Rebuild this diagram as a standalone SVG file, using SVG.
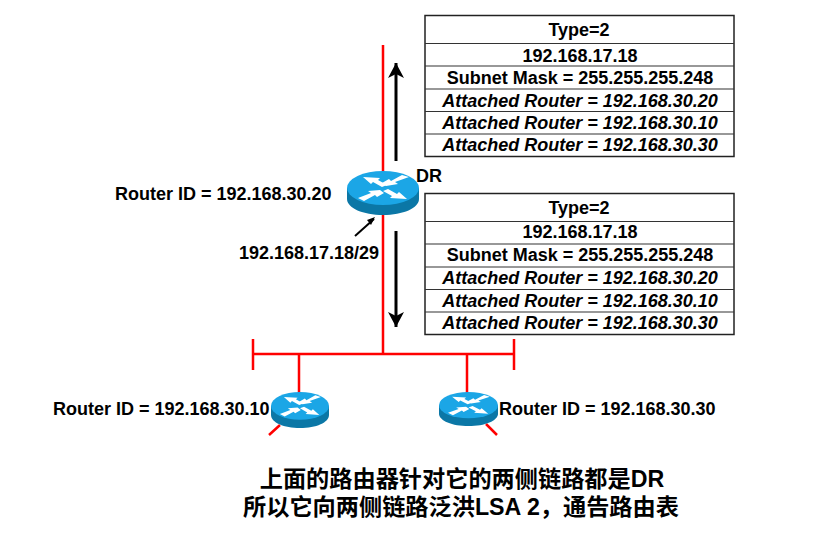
<svg xmlns="http://www.w3.org/2000/svg" width="822" height="551" viewBox="0 0 822 551">
<style>
text{font-family:"Liberation Sans",Arial,"Noto Sans CJK SC",sans-serif;fill:#000;font-weight:700;font-size:18px}
.c{text-anchor:middle}
.i{font-style:italic}
.cn{font-family:"Liberation Sans","Noto Sans CJK SC",sans-serif;font-size:23.200px;text-anchor:middle}
.r{stroke:#f00;stroke-width:2.500;fill:none}
.k{stroke:#000;stroke-width:3;fill:none}
.t{fill:#fff;stroke:#222;stroke-width:1.500}
.l{stroke:#333;stroke-width:1.200}
</style>
<defs>
<symbol id="rt" viewBox="0 0 72 44" preserveAspectRatio="none">
<path d="M0 17V28C0 37 16 44 36 44S72 37 72 28V17Z" fill="#0b77a6"/>
<ellipse cx="36" cy="17" rx="36" ry="17" fill="#1ba6e6"/>
<path d="M11 27L24 22L21 20L33 19L37 22L30 26L28 24L17 30Z" fill="#fff"/>
<path d="M62 6L48 11L51 13L39 15L35 12L42 8L44 10L55 4Z" fill="#fff"/>
<path d="M16 6L33 7L31 9L40 14L35 16L26 11L24 13Z" fill="#fff"/>
<path d="M60 28L43 27L45 25L36 20L41 18L50 23L52 21Z" fill="#fff"/>
</symbol>
<marker id="a" markerUnits="userSpaceOnUse" markerWidth="20" markerHeight="20" refX="16" refY="9" orient="auto">
<path d="M16 9L1 1L5 9L1 17Z" fill="#000"/>
</marker>
</defs>
<g id="connectors">
<path class="r" d="M383 45V172M383 214V354M253 339V370M514 339V370M253 354H514M299 354V393M467 354V393M280 425L269 435M486 424L497 435"/>
<path class="k" d="M396 161V63" marker-end="url(#a)"/>
<path class="k" d="M396 231V327" marker-end="url(#a)"/>
<path d="M355 236L374 219" stroke="#000" stroke-width="2" fill="none"/>
<path d="M375 217L367 220L371 225Z" fill="#000"/>
</g>
<g id="router-dr"><use href="#rt" x="347" y="171" width="72" height="44"/></g>
<g id="router-left"><use href="#rt" x="271" y="392" width="58" height="36"/></g>
<g id="router-right"><use href="#rt" x="439" y="392" width="59" height="34"/></g>
<g id="table-top">
<rect class="t" x="425" y="15.500" width="309" height="141"/>
<path class="l" d="M425 43.500H734M425 66H734M425 89H734M425 111.500H734M425 134H734"/>
<text class="c" x="579" y="36">Type=2</text>
<text class="c" x="580" y="62">192.168.17.18</text>
<text class="c" x="580" y="84">Subnet Mask = 255.255.255.248</text>
<text class="c i" x="580" y="107">Attached Router = 192.168.30.20</text>
<text class="c i" x="580" y="129">Attached Router = 192.168.30.10</text>
<text class="c i" x="580" y="151">Attached Router = 192.168.30.30</text>
</g>
<g id="table-bottom">
<rect class="t" x="425" y="193.500" width="309" height="141"/>
<path class="l" d="M425 221.500H734M425 244H734M425 267H734M425 289.500H734M425 312H734"/>
<text class="c" x="579" y="214">Type=2</text>
<text class="c" x="580" y="238">192.168.17.18</text>
<text class="c" x="580" y="261">Subnet Mask = 255.255.255.248</text>
<text class="c i" x="580" y="284">Attached Router = 192.168.30.20</text>
<text class="c i" x="580" y="307">Attached Router = 192.168.30.10</text>
<text class="c i" x="580" y="329">Attached Router = 192.168.30.30</text>
</g>
<g id="labels">
<text x="416" y="182">DR</text>
<text x="115" y="200">Router ID = 192.168.30.20</text>
<text x="239" y="259">192.168.17.18/29</text>
<text x="53" y="415">Router ID = 192.168.30.10</text>
<text x="499" y="415">Router ID = 192.168.30.30</text>
<text class="cn" x="462" y="487">上面的路由器针对它的两侧链路都是DR</text>
<text class="cn" x="461" y="515">所以它向两侧链路泛洪LSA 2，通告路由表</text>
</g>
</svg>
